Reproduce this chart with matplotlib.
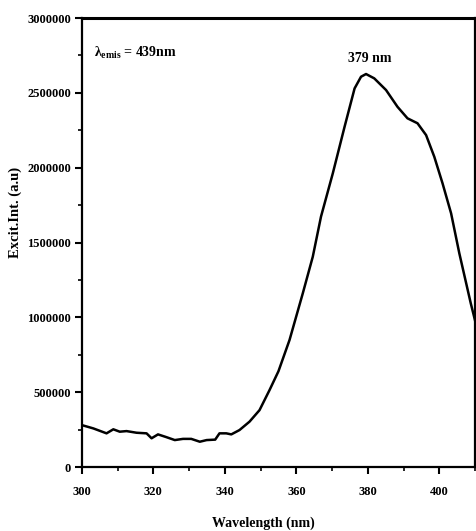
import matplotlib
matplotlib.use("Agg")
import matplotlib.pyplot as plt
from matplotlib.ticker import MultipleLocator, FormatStrFormatter

plt.rcParams['font.family'] = ['Liberation Serif', 'DejaVu Serif']
plt.rcParams['font.weight'] = 'bold'
plt.rcParams['mathtext.fontset'] = 'custom'
plt.rcParams['mathtext.rm'] = 'Liberation Serif'
plt.rcParams['mathtext.bf'] = 'Liberation Serif:bold'

# excitation spectrum
wavelength = [300, 303.2, 306.9, 308.8, 310.6, 312.5, 315.3, 318.1, 319.5, 321.3,
              323.6, 326, 328.3, 330.6, 333, 334.9, 337.3, 338.5, 340.4, 341.8,
              344.1, 346.9, 349.7, 352.5, 355.0, 358.1, 361.8, 364.6, 366.9, 370.2,
              373.5, 376.3, 378.1, 379.5, 381.8, 385.1, 388.3, 391.1, 393.9, 396.3,
              398.6, 400.9, 403.3, 405.6, 408.8, 410]
intensity = [280000, 258000, 225000, 252000, 236000, 240000, 229000, 225000, 192000, 218000,
             200000, 180000, 188000, 188000, 169000, 180000, 183000, 225000, 225000, 218000,
             247000, 303000, 380000, 514000, 640000, 849000, 1160000, 1405000, 1673000, 1962000,
             2274000, 2530000, 2608000, 2626000, 2597000, 2519000, 2407000, 2330000, 2297000, 2218000,
             2073000, 1896000, 1695000, 1428000, 1094000, 979000]

fig = plt.figure(figsize=(4.76, 5.31), dpi=100)
ax = fig.add_axes([0.172, 0.1205, 0.826, 0.8455])

ax.plot(wavelength, intensity, color='black', linewidth=1.8)

ax.set_xlim(300, 410)
ax.set_ylim(0, 3000000)
ax.xaxis.set_major_locator(MultipleLocator(20))
ax.xaxis.set_minor_locator(MultipleLocator(10))
ax.yaxis.set_major_locator(MultipleLocator(500000))
ax.yaxis.set_minor_locator(MultipleLocator(250000))
ax.yaxis.set_major_formatter(FormatStrFormatter('%d'))
ax.tick_params(which='major', direction='out', length=5, width=1.5, labelsize=9, pad=3)
ax.tick_params(axis='x', which='major', pad=9)
ax.tick_params(which='minor', direction='out', length=3, width=1.2)
for s in ax.spines.values():
    s.set_linewidth(1.6)
ax.spines['top'].set_linewidth(2.2)
for lab in ax.get_xticklabels() + ax.get_yticklabels():
    lab.set_fontweight('bold')

fig.text(263 / 476, 1 - 523 / 531, 'Wavelength (nm)', fontsize=10, fontweight='bold',
         ha='center', va='center')
fig.text(15 / 476, 1 - 212 / 531, 'Excit.Int. (a.u)', fontsize=10.5, fontweight='bold',
         ha='center', va='center', rotation=90)

ax.text(0.032, 0.922, r'$\mathbf{\lambda_{emis}}$ = 439nm', transform=ax.transAxes,
        fontsize=10, fontweight='bold', va='center')
ax.text(380.5, 2733000, '379 nm', fontsize=10, fontweight='bold', ha='center', va='center')

fig.savefig('out.png', dpi=100)
